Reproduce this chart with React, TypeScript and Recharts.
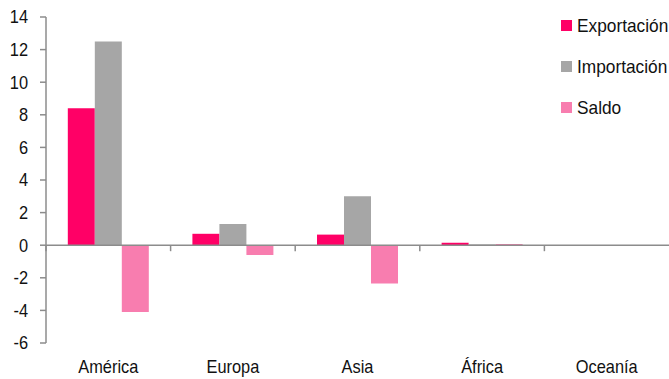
import { BarChart, Bar, XAxis, YAxis, ReferenceLine } from "recharts";

const regiones = ["América", "Europa", "Asia", "África", "Oceanía"];
const exportacion = [8.4, 0.7, 0.65, 0.15, 0.0];
const importacion = [12.5, 1.3, 3.0, 0.05, 0.0];
const saldo = [-4.1, -0.6, -2.35, 0.08, 0.0];
const yTicks = [-6, -4, -2, 0, 2, 4, 6, 8, 10, 12, 14];

const series = [
  { key: "Exportación", color: "#FF0066", values: exportacion },
  { key: "Importación", color: "#A6A6A6", values: importacion },
  { key: "Saldo", color: "#F87DAF", values: saldo },
];

const data = regiones.map((r, i) => {
  const row: Record<string, string | number> = { region: r };
  series.forEach((s) => (row[s.key] = s.values[i]));
  return row;
});

const FONT = "'Liberation Sans', Arial, sans-serif";
const AXIS = "#8C8C8C";
const NARROW = 0.91; // the source font is a bit narrower than Arial

// zero line with the category boundary ticks hanging below it
function ZeroAxis(props: any) {
  const { x1, x2, y1 } = props;
  const step = (x2 - x1) / regiones.length;
  return (
    <g>
      <line x1={x1} x2={x2} y1={y1} y2={y1} stroke={AXIS} strokeWidth={1.5} />
      {regiones.map((_, i) => (
        <line
          key={i}
          x1={x1 + step * i}
          x2={x1 + step * i}
          y1={y1}
          y2={y1 + 6}
          stroke={AXIS}
          strokeWidth={1.5}
        />
      ))}
    </g>
  );
}

function RegionTick(props: any) {
  const { x, y, payload } = props;
  return (
    <text
      transform={`translate(${x},${y}) scale(${NARROW},1)`}
      textAnchor="middle"
      dy="0.71em"
      fontSize={18}
      fontFamily={FONT}
      fill="#111"
    >
      {payload.value}
    </text>
  );
}

function ValueTick(props: any) {
  const { x, y, payload } = props;
  return (
    <text
      transform={`translate(${x},${y}) scale(${NARROW},1)`}
      textAnchor="end"
      dy="0.355em"
      fontSize={18}
      fontFamily={FONT}
      fill="#111"
    >
      {payload.value}
    </text>
  );
}

export default function App() {
  return (
    <div style={{ position: "absolute", left: 0, top: 0, width: 669, height: 379, background: "#fff" }}>
      <BarChart
        width={669}
        height={379}
        data={data}
        margin={{ top: 17, right: 0, bottom: 6, left: 0 }}
        barCategoryGap="17.5%"
        barGap={0}
      >
        <XAxis
          dataKey="region"
          axisLine={false}
          tickLine={false}
          height={30}
          tick={<RegionTick />}
          tickMargin={11}
        />
        <YAxis
          domain={[-6, 14]}
          ticks={yTicks}
          width={46}
          interval={0}
          axisLine={{ stroke: AXIS, strokeWidth: 1.5 }}
          tickLine={{ stroke: AXIS, strokeWidth: 1.5 }}
          tickSize={6}
          tickMargin={12}
          tick={<ValueTick />}
        />
        {series.map((s) => (
          <Bar key={s.key} dataKey={s.key} fill={s.color} isAnimationActive={false} />
        ))}
        <ReferenceLine y={0} shape={ZeroAxis} />
      </BarChart>
      <div style={{ position: "absolute", left: 561, top: 5, fontFamily: FONT, fontSize: 19, color: "#111" }}>
        {series.map((s) => (
          <div key={s.key} style={{ display: "flex", alignItems: "center", height: 41 }}>
            <span style={{ width: 11, height: 11, background: s.color, marginRight: 5, display: "inline-block", flex: "none" }} />
            <span style={{ display: "inline-block", transform: `scaleX(${NARROW})`, transformOrigin: "left center", whiteSpace: "nowrap" }}>
              {s.key}
            </span>
          </div>
        ))}
      </div>
    </div>
  );
}
